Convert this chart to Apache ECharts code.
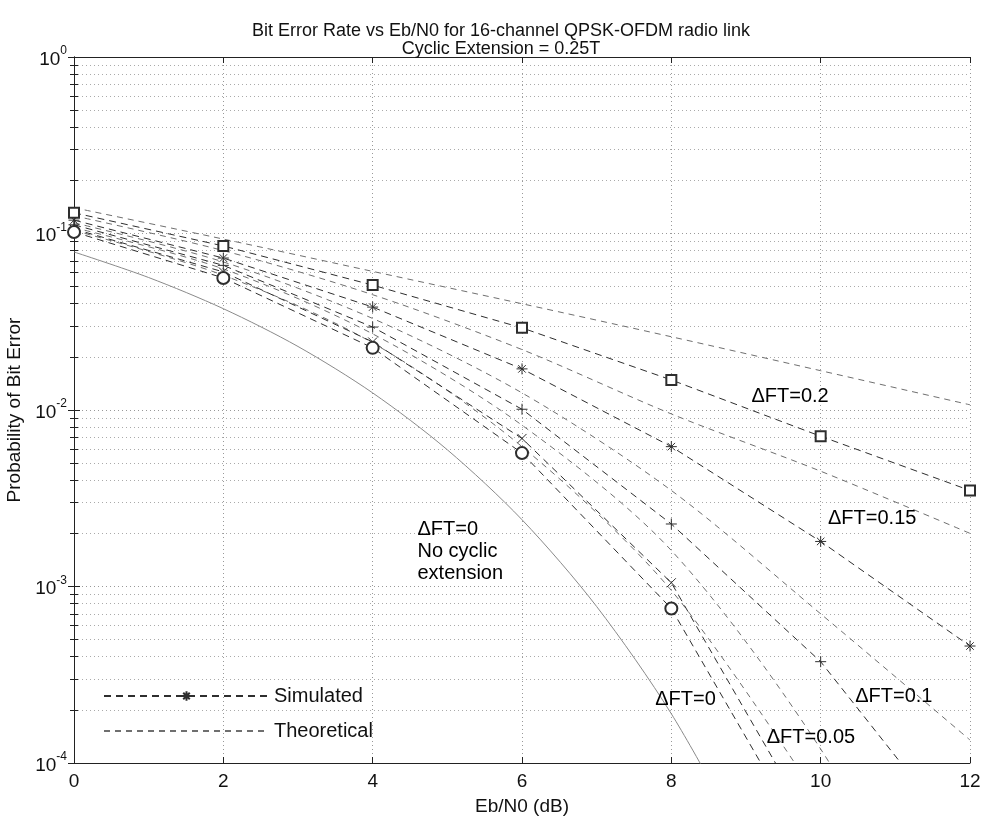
<!DOCTYPE html>
<html>
<head>
<meta charset="utf-8">
<script src="https://cdn.jsdelivr.net/npm/echarts@6/dist/echarts.min.js"></script>
<style>
  html, body { margin: 0; padding: 0; background: #fff; }
  #chart { width: 984px; height: 817px; }
</style>
</head>
<body>
<div id="chart"></div>
<script>
// Eb/N0 points (dB) where the simulation / theory were evaluated
const ebn0 = [0, 2, 4, 6, 8, 10, 12];
const ebn0Fine = [0, 1, 2, 3, 4, 5, 6, 7, 8, 9];

// simulated BER, one array per frequency offset
const simFT0 = [0.102, 0.056, 0.0225, 0.0057, 0.00075, 0.000026, null];
const simFT005 = [0.106, 0.0606, 0.0243, 0.0069, 0.00105, 0.000036, null];
const simFT01 = [0.112, 0.066, 0.0295, 0.0101, 0.00226, 0.000375, 0.000032];
const simFT015 = [0.119, 0.0726, 0.0383, 0.0171, 0.0062, 0.0018, 0.00046];
const simFT02 = [0.131, 0.085, 0.051, 0.0292, 0.0148, 0.0071, 0.0035];

// theoretical BER curves
const thFT0 = [0.104, 0.058, 0.024, 0.0062, 0.00095, 0.00006, null];
const thFT005 = [0.108, 0.063, 0.027, 0.0082, 0.0016, 0.00012, 0.000004];
const thFT01 = [0.115, 0.069, 0.033, 0.0125, 0.0035, 0.0007, 0.000135];
const thFT015 = [0.126, 0.080, 0.045, 0.022, 0.0095, 0.0045, 0.0020];
const thFT02 = [0.140, 0.093, 0.061, 0.040, 0.026, 0.0167, 0.0107];
const thNoExt = [0.0786, 0.0563, 0.0375, 0.0229, 0.0125, 0.00595, 0.00239, 0.00077, 0.00019, 0.0000336];

// curve labels: [text, Eb/N0, BER]
const notes = [
  ['\u0394FT=0.2', 9.59, 0.012],
  ['\u0394FT=0.15', 10.69, 0.00244],
  ['\u0394FT=0.1', 10.98, 0.000237],
  ['\u0394FT=0.05', 9.87, 0.00014],
  ['\u0394FT=0', 8.19, 0.00023]
];
const noExtNote = ['\u0394FT=0\nNo cyclic\nextension', 4.6, 0.00157];

const font = "'Liberation Sans', Arial, sans-serif";
const ink = '#111';
const simColor = '#2e2e2e';
const thColor = '#6f6f6f';

const star = 'path://M5,0V10M0,5H10M1.6,1.6L8.4,8.4M8.4,1.6L1.6,8.4';
const plus = 'path://M5,0V10M0,5H10';
const cross = 'path://M0,0L10,10M10,0L0,10';

function pairs(xs, ys) {
  return xs.map((x, i) => [x, ys[i]]);
}

function simSeries(ys, symbol, size) {
  const pathSym = symbol.indexOf('path://') === 0;
  return {
    name: 'Simulated',
    type: 'line',
    data: pairs(ebn0, ys),
    symbol: symbol,
    symbolSize: size,
    showAllSymbol: true,
    z: 3,
    lineStyle: { color: simColor, width: 1, type: [7, 5] },
    itemStyle: pathSym
      ? { color: 'transparent', borderColor: simColor, borderWidth: 1 }
      : { color: simColor, borderColor: simColor, borderWidth: 1 }
  };
}

function thSeries(ys) {
  return {
    name: 'Theoretical',
    type: 'line',
    data: pairs(ebn0, ys),
    symbol: 'none',
    smooth: 0.3,
    z: 2,
    itemStyle: { color: thColor },
    lineStyle: { color: thColor, width: 1, type: [6, 5] }
  };
}

const chart = echarts.init(document.getElementById('chart'));

const option = {
  backgroundColor: '#fff',
  animation: false,
  textStyle: { fontFamily: font },
  title: {
    text: 'Bit Error Rate vs Eb/N0 for 16-channel QPSK-OFDM radio link\nCyclic Extension = 0.25T',
    left: 496,
    textAlign: 'center',
    top: 17,
    textStyle: { fontFamily: font, fontSize: 18, fontWeight: 'normal', color: ink, lineHeight: 18 }
  },
  grid: { left: 74, right: 14, top: 57, bottom: 54, containLabel: false, outerBoundsMode: 'none' },
  legend: {
    data: [
      { name: 'Simulated' },
      { name: 'Theoretical', itemStyle: { opacity: 0 } }
    ],
    orient: 'vertical',
    left: 98,
    top: 681,
    itemWidth: 165,
    itemHeight: 12,
    itemGap: 15,
    selectedMode: false,
    textStyle: { fontFamily: font, fontSize: 20, color: ink }
  },
  xAxis: [{
    type: 'value',
    min: 0,
    max: 12,
    interval: 2,
    name: 'Eb/N0 (dB)',
    nameLocation: 'middle',
    nameGap: 34,
    nameTextStyle: { fontFamily: font, fontSize: 19, color: ink },
    axisLine: { lineStyle: { color: '#222' } },
    axisTick: { inside: true, length: 6, lineStyle: { color: '#222' } },
    axisLabel: { fontFamily: font, fontSize: 19, color: ink, margin: 9 },
    splitLine: { show: true, lineStyle: { color: '#999', type: [1, 3] } }
  }, {
    type: 'value',
    position: 'top',
    min: 0,
    max: 12,
    interval: 2,
    axisLine: { lineStyle: { color: '#222' } },
    axisTick: { inside: true, length: 6, lineStyle: { color: '#222' } },
    axisLabel: { show: false },
    splitLine: { show: false }
  }],
  yAxis: [{
    type: 'log',
    logBase: 10,
    min: 1e-4,
    max: 1,
    name: 'Probability of Bit Error',
    nameLocation: 'middle',
    nameGap: 35,
    nameTextStyle: { fontFamily: font, fontSize: 19, color: ink },
    axisLine: { lineStyle: { color: '#222' } },
    axisTick: { inside: true, length: 6, lineStyle: { color: '#222' } },
    minorTick: { show: true, splitNumber: 9, length: 4, lineStyle: { color: '#222' } },
    axisLabel: {
      margin: 7,
      formatter: function (v) {
        return '{b|10}{e|' + Math.round(Math.log10(v)) + '}';
      },
      rich: {
        b: { fontFamily: font, fontSize: 19, color: ink, lineHeight: 24, verticalAlign: 'bottom' },
        e: { fontFamily: font, fontSize: 12, color: ink, lineHeight: 24, verticalAlign: 'top' }
      }
    },
    splitLine: { show: true, lineStyle: { color: '#999', type: [1, 3] } },
    minorSplitLine: { show: true, lineStyle: { color: '#aaa', type: [1, 3] } }
  }, {
    type: 'log',
    logBase: 10,
    position: 'right',
    min: 1e-4,
    max: 1,
    axisLine: { show: true, lineStyle: { color: '#222' } },
    axisTick: { inside: true, length: 6, lineStyle: { color: '#222' } },
    minorTick: { show: true, splitNumber: 9, length: 4, lineStyle: { color: '#222' } },
    axisLabel: { show: false },
    splitLine: { show: false }
  }],
  series: [
    simSeries(simFT015, star, 11),
    simSeries(simFT02, 'emptyRect', 10),
    simSeries(simFT01, plus, 11),
    simSeries(simFT005, cross, 9),
    simSeries(simFT0, 'emptyCircle', 12),
    thSeries(thFT02),
    thSeries(thFT015),
    thSeries(thFT01),
    thSeries(thFT005),
    thSeries(thFT0),
    {
      name: 'No extension',
      type: 'line',
      data: pairs(ebn0Fine, thNoExt),
      symbol: 'none',
      smooth: 0.3,
      z: 2,
      lineStyle: { color: '#8a8a8a', width: 1 }
    },
    {
      name: 'notes',
      type: 'scatter',
      symbolSize: 0,
      silent: true,
      z: 5,
      itemStyle: { opacity: 1 },
      data: notes.map(n => ({ value: [n[1], n[2]], label: { formatter: n[0] } })).concat([{
        value: [noExtNote[1], noExtNote[2]],
        label: { formatter: noExtNote[0], align: 'left', lineHeight: 22 }
      }]),
      label: {
        show: true,
        position: 'inside',
        align: 'center',
        verticalAlign: 'middle',
        fontFamily: font,
        fontSize: 20,
        color: '#000',
        opacity: 1
      }
    }
  ]
};

chart.setOption(option);
</script>
</body>
</html>
